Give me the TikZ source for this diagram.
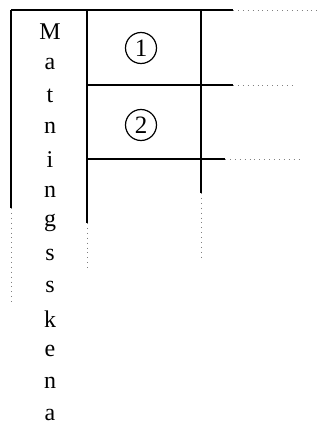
\documentclass[tikz,border=0pt]{standalone}
\usepackage{fontspec}
\setmainfont{Liberation Serif}
\begin{document}
\begin{tikzpicture}[x=0.5pt,y=-0.5pt,
  rail/.style={line width=0.8pt},
  faint/.style={line width=0.45pt,gray,dotted},
  num/.style={circle,draw,line width=0.6pt,minimum size=15.5pt,inner sep=0pt,font=\fontsize{12.5}{12}\selectfont}]
\useasboundingbox (0,0) rectangle (321,423);
% frame
\coordinate (tl) at (11,10);
\coordinate (tm) at (87,10);
\coordinate (tr) at (201,10);
\draw[rail] (tl)--(233,10) coordinate (te);
\draw[faint] (te)--(320,10);
\draw[rail] (tl)--(11,208) coordinate (le);
\draw[faint] (le)--(11,302);
\draw[rail] (tm)--(87,223) coordinate (me);
\draw[faint] (me)--(87,270);
\draw[rail] (tr)--(201,193) coordinate (re);
\draw[faint] (re)--(201,257);
\draw[rail] (87,85)--(233,85) coordinate (h1);
\draw[faint] (h1)--(293,85);
\draw[rail] (87,159)--(225,159) coordinate (h2);
\draw[faint] (h2)--(300,159);
% fields
\node[num] (f1) at (141,48) {1};
\node[num] (f2) at (141,125) {2};
% vertical label
\foreach \c [count=\i] in {M,a,t,n,i,n,g,s,s,k,e,n,a}
  \node[font=\fontsize{12}{12}\selectfont] (l\i) at (50,{32+31.9*(\i-1)}) {\c};
\end{tikzpicture}
\end{document}
